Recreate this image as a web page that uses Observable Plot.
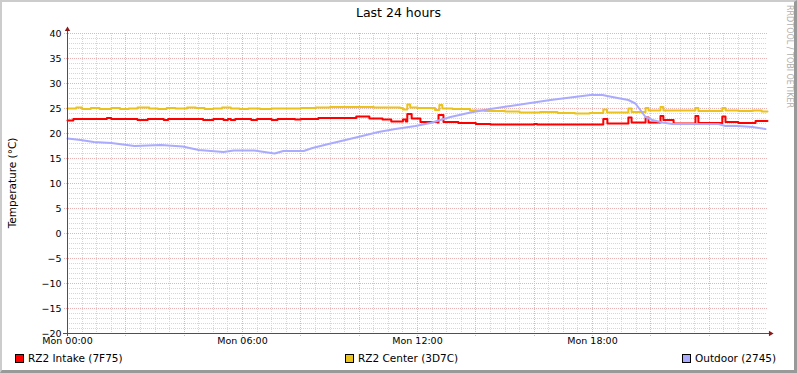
<!DOCTYPE html>
<html><head><meta charset="utf-8">
<script src="https://cdn.jsdelivr.net/npm/d3@7"></script>
<script src="https://cdn.jsdelivr.net/npm/@observablehq/plot@0.6"></script>
<style>
html,body{margin:0;padding:0;background:#fff;}
#chart{position:relative;width:797px;height:373px;background:#fff;font-family:"DejaVu Sans",sans-serif;overflow:hidden;color:#000;}
#frame{position:absolute;left:0;top:0;width:797px;height:373px;box-sizing:border-box;border-style:solid;border-width:2px 3px 3px 2px;border-color:#cccccc #999999 #999999 #cccccc;pointer-events:none;}
#title{position:absolute;left:0;top:5px;width:797px;text-align:center;font-size:12.5px;line-height:16px;}
#plot{position:absolute;left:0;top:24px;}
#ylabel{position:absolute;left:-138px;top:176px;width:300px;height:14px;line-height:14px;text-align:center;font-size:10.5px;transform:rotate(-90deg);}
#mark{position:absolute;left:785px;top:5px;writing-mode:vertical-rl;font-size:8px;line-height:9px;color:#b0b0b0;}
.leg{position:absolute;top:351px;font-size:10.5px;line-height:15px;white-space:nowrap;}
.sw{position:absolute;top:3px;left:-13px;width:7px;height:7px;border:1px solid #000;}
</style>
</head><body>
<div id="chart">
  <div id="title"></div>
  <div id="plot"></div>
  <div id="ylabel"></div>
  <div id="mark">RRDTOOL / TOBI OETIKER</div>
  <div id="legend"></div>
  <div id="frame"></div>
</div>
<script>
const titleText = "Last 24 hours";
const yLabel = "Temperature (°C)";
const seriesNames = ["RZ2 Intake (7F75)", "RZ2 Center (3D7C)", "Outdoor (2745)"];
const seriesColors = ["#ff0000", "#eac41c", "#aaaaff"];
const legendLeft = [28, 358, 695];

const xTickHours = [0, 6, 12, 18];
const yTicks = [-20, -15, -10, -5, 0, 5, 10, 15, 20, 25, 30, 35, 40];

const intakeHours = [0, 0.2, 1.35, 1.5, 2.4, 2.75, 3.3, 3.45, 4.65, 5.0, 5.35, 5.5, 5.6, 5.75, 6.3, 6.5, 7.0, 7.2, 7.8, 8.0,
  8.6, 9.9, 10.35, 10.8, 11.1, 11.5, 11.6, 11.65, 11.8, 12.1, 12.68, 12.72, 12.89, 13.4, 14.0, 14.5, 16.0, 16.1,
  18.37, 18.51, 19.23, 19.34, 19.82, 19.92, 20.33, 20.43, 20.78, 21.53, 21.63, 22.45, 22.56, 23.0, 23.59, 24];
const intakeTemps = [22.6, 22.9, 23.1, 22.9, 22.7, 22.9, 22.7, 22.9, 22.7, 22.9, 22.7, 22.9, 22.7, 22.9, 22.7, 22.9, 22.7, 22.9, 22.8, 22.9,
  23.1, 23.4, 23.0, 22.8, 22.4, 22.8, 22.4, 23.9, 23.0, 22.3, 22.2, 23.7, 22.3, 22.1, 21.9, 21.8, 21.9, 21.8,
  22.9, 22.0, 23.2, 22.2, 23.2, 22.2, 23.5, 22.7, 22.0, 23.5, 22.1, 23.4, 22.3, 22.1, 22.5, 22.5];

const centerHours = [0, 0.3, 0.5, 0.8, 1.1, 1.5, 1.8, 2.1, 2.4, 2.8, 3.1, 3.4, 3.7, 4.1, 4.4, 4.7, 5.0, 5.3, 5.6, 5.9,
  6.2, 6.6, 7.0, 8.0, 8.5, 9.0, 10.5, 11.4, 11.5, 11.65, 11.75, 12.0, 12.6, 12.75, 12.85, 13.2, 13.8, 14.3, 15.0, 15.5,
  16.2, 16.8, 17.4, 17.9, 18.37, 18.5, 19.23, 19.34, 19.82, 19.92, 20.33, 20.43, 21.53, 21.63, 22.45, 22.56, 23.0, 23.5, 23.8, 24];
const centerTemps = [25.0, 25.2, 24.9, 25.1, 24.9, 25.1, 24.9, 25.0, 25.2, 25.0, 24.9, 25.1, 25.0, 25.2, 25.1, 24.9, 25.0, 25.2, 25.0, 24.9,
  25.0, 24.9, 25.0, 25.1, 25.2, 25.3, 25.2, 25.1, 24.8, 25.8, 25.2, 25.1, 24.7, 25.7, 25.0, 24.9, 24.6, 24.5, 24.4, 24.2,
  24.3, 24.1, 24.0, 24.1, 24.8, 24.2, 25.0, 24.3, 25.1, 24.6, 25.3, 24.6, 25.1, 24.5, 25.1, 24.6, 24.5, 24.6, 24.4, 24.4];

const outdoorHours = [0, 0.45, 0.9, 1.5, 1.9, 2.3, 3.2, 3.95, 4.5, 5.35, 5.7, 6.4, 7.1, 7.4, 8.1, 8.4, 8.95, 9.53, 10.1, 10.66,
  11.24, 11.93, 12.44, 13.13, 13.82, 14.5, 15.19, 15.87, 16.56, 17.24, 17.93, 18.34, 18.68, 19.23, 19.47, 19.64, 19.82, 20.05,
  20.4, 20.74, 22.32, 22.56, 23.0, 23.48, 23.93];
const outdoorTemps = [19.0, 18.7, 18.3, 18.1, 17.8, 17.5, 17.7, 17.4, 16.7, 16.3, 16.6, 16.6, 16.0, 16.5, 16.5, 17.1, 17.9, 18.7, 19.5, 20.3,
  20.9, 21.5, 22.1, 23.3, 24.2, 24.9, 25.5, 26.1, 26.7, 27.2, 27.7, 27.7, 27.3, 26.7, 26.0, 24.7, 23.3, 22.7,
  22.2, 21.9, 21.9, 21.5, 21.5, 21.3, 20.9];

const t0 = Date.UTC(2024, 0, 1, 0, 0); // a Monday
const toDate = h => new Date(t0 + h * 3600000);
const mk = (hours, temps) => hours.map((h, i) => ({t: toDate(h), v: temps[i]}));
const intake = mk(intakeHours, intakeTemps);
const center = mk(centerHours, centerTemps);
const outdoor = mk(outdoorHours, outdoorTemps);

const xStart = toDate(0), xEnd = toDate(24);
const minorX = d3.range(0, 24.01, 0.5).filter(h => h % 2 !== 0).map(toDate);
const majorX = d3.range(2, 24, 2).map(toDate);
const minorY = d3.range(-19, 41, 1).filter(v => v % 5 !== 0);
const majorY = yTicks.filter(v => v > -20);

document.getElementById("title").textContent = titleText;
document.getElementById("ylabel").textContent = yLabel;

const gridMinor = "#d6d6d6", gridMajor = "#eab2b2", axisColor = "#505050", arrowColor = "#8b1a1a";

const plot = Plot.plot({
  width: 797, height: 329,
  marginLeft: 67, marginRight: 30, marginTop: 9, marginBottom: 20,
  style: {fontFamily: "DejaVu Sans, sans-serif", fontSize: "9.5px", background: "transparent", overflow: "visible", color: "#000"},
  x: {type: "utc", domain: [xStart, xEnd]},
  y: {domain: [-20, 40]},
  marks: [
    Plot.ruleY(minorY, {stroke: gridMinor, strokeDasharray: "1,1", shapeRendering: "crispEdges"}),
    Plot.ruleX(minorX, {stroke: gridMinor, strokeDasharray: "1,1", shapeRendering: "crispEdges"}),
    Plot.ruleY(majorY, {stroke: gridMajor, strokeDasharray: "1,1", insetLeft: -3, shapeRendering: "crispEdges"}),
    Plot.ruleX(majorX, {stroke: gridMajor, strokeDasharray: "1,1", insetBottom: -3, shapeRendering: "crispEdges"}),
    Plot.line(intake, {x: "t", y: "v", stroke: seriesColors[0], strokeWidth: 2, curve: "step-after"}),
    Plot.line(center, {x: "t", y: "v", stroke: seriesColors[1], strokeWidth: 2, curve: "step-after"}),
    Plot.line(outdoor, {x: "t", y: "v", stroke: seriesColors[2], strokeWidth: 2, curve: "linear"}),
    Plot.ruleY([-20], {stroke: axisColor, insetLeft: -4, insetRight: -2, shapeRendering: "crispEdges"}),
    Plot.ruleX([xStart], {stroke: axisColor, insetTop: -4, insetBottom: -3, shapeRendering: "crispEdges"}),
    Plot.dot([xEnd], {x: d => d, y: () => -20, symbol: "triangle", r: 2, fill: arrowColor, stroke: "none", rotate: 90, dx: 3}),
    Plot.dot([40], {x: () => xStart, y: d => d, symbol: "triangle", r: 2, fill: arrowColor, stroke: "none", dy: -4}),
    Plot.axisY(yTicks, {tickSize: 0, tickPadding: 6, label: null, fill: "#000"}),
    Plot.axisX(xTickHours.map(toDate), {tickSize: 0, tickPadding: 4, label: null, fill: "#000", tickFormat: d3.utcFormat("%a %H:%M")})
  ]
});
document.getElementById("plot").appendChild(plot);

const legend = document.getElementById("legend");
seriesNames.forEach((name, i) => {
  const d = document.createElement("div");
  d.className = "leg";
  d.style.left = legendLeft[i] + "px";
  const sw = document.createElement("span");
  sw.className = "sw";
  sw.style.background = seriesColors[i];
  d.appendChild(sw);
  d.appendChild(document.createTextNode(name));
  legend.appendChild(d);
});
</script>
</body></html>
